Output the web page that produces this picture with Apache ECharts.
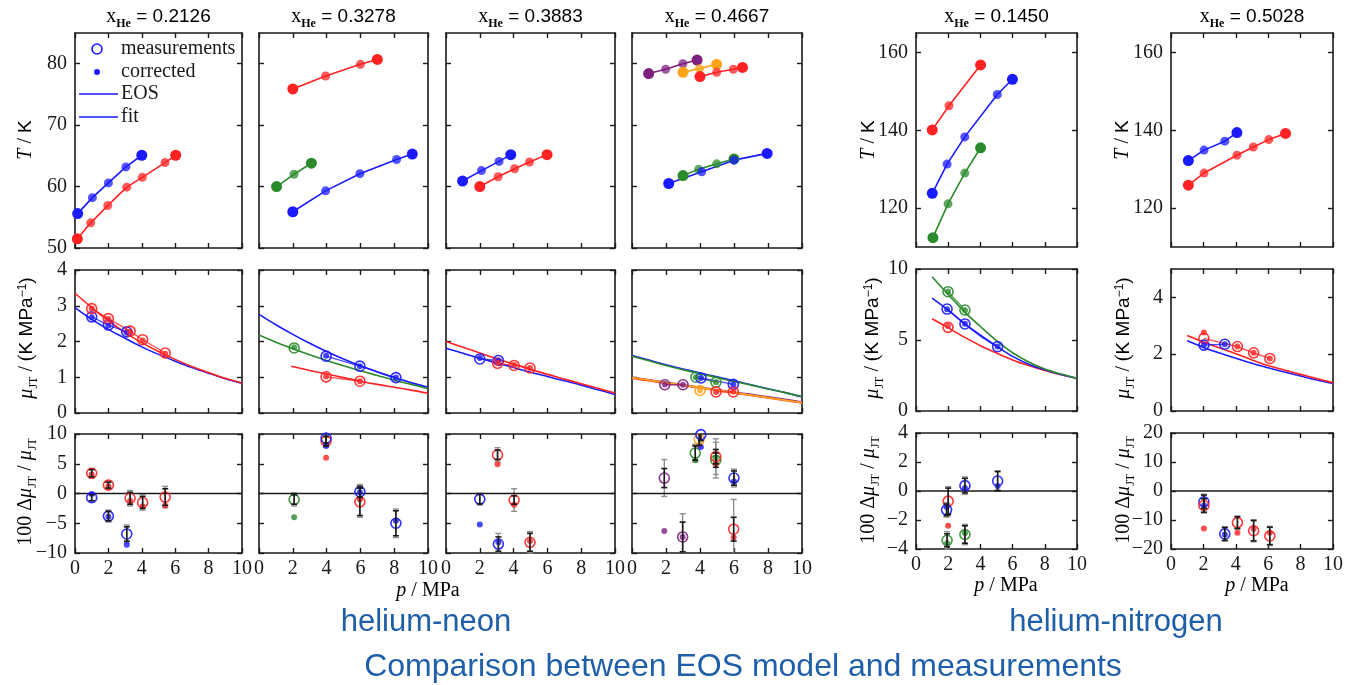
<!DOCTYPE html>
<html><head><meta charset="utf-8">
<script src="https://cdn.jsdelivr.net/npm/echarts@6/dist/echarts.min.js"></script>
<style>html,body{margin:0;padding:0;background:#fff}#c{width:1355px;height:685px}</style>
</head><body><div id="c"></div>
<script>
// ---------------- DATA ----------------
const titles = ['0.2126','0.3278','0.3883','0.4667','0.1450','0.5028'];
const xTicks = [0,2,4,6,8,10];
const tTicksNe = [50,60,70,80];
const tTicksN = [120,140,160];
const muTicksNe = [0,1,2,3,4];
const muTicksN1 = [0,5,10];
const muTicksN2 = [0,2,4];
const dTicksNe = [-10,-5,0,5,10];
const dTicksN1 = [-4,-2,0,2,4];
const dTicksN2 = [-20,-10,0,10,20];
const zeroLine = [[0,0],[10,0]];

// Temperature panels [p, T]
const tNe1Blue = [[0.16,55.6],[1.04,58.2],[2.0,60.6],[3.05,63.2],[4.0,65.1]];
const tNe1Red = [[0.14,51.5],[0.94,54.1],[1.96,56.9],[3.1,59.9],[4.03,61.5],[5.39,63.9],[6.03,65.1]];
const tNe2Red = [[2.0,75.9],[3.94,78.0],[6.0,79.9],[7.0,80.7]];
const tNe2Green = [[1.04,60.0],[2.07,62.0],[3.1,63.8]];
const tNe2Blue = [[2.0,55.9],[3.94,59.3],[5.97,62.1],[8.14,64.4],[9.07,65.3]];
const tNe3Blue = [[0.98,60.9],[2.1,62.6],[3.14,64.1],[3.83,65.2]];
const tNe3Red = [[2.0,60.0],[3.08,61.6],[4.06,62.9],[4.94,64.0],[5.98,65.2]];
const tNe4Purple = [[0.98,78.4],[1.98,79.1],[2.99,80.0],[3.83,80.6]];
const tNe4Orange = [[3.0,78.6],[3.97,79.2],[4.98,79.9]];
const tNe4Red = [[4.0,77.9],[4.98,78.6],[5.96,79.1],[6.5,79.4]];
const tNe4Green = [[3.0,61.8],[3.92,62.8],[4.98,63.7],[6.0,64.5]];
const tNe4Blue = [[2.16,60.5],[4.1,62.4],[6.0,64.3],[7.95,65.4]];
const tN1Red = [[1.01,140.1],[2.05,146.3],[4.01,156.8]];
const tN1Blue = [[1.01,123.8],[1.93,131.3],[3.03,138.3],[5.05,149.2],[5.99,153.1]];
const tN1Green = [[1.05,112.4],[1.99,121.1],[3.03,129.0],[4.01,135.5]];
const tN2Blue = [[1.07,132.2],[2.04,134.9],[3.32,137.2],[4.07,139.4]];
const tN2Red = [[1.07,125.9],[2.04,129.0],[4.07,133.6],[5.08,135.7],[6.04,137.6],[7.07,139.2]];

// Joule-Thomson coefficient: EOS curves [p, mu]
const muNe1RedEOS = [[0,3.35],[1,2.95],[2,2.58],[3,2.25],[4,1.97],[5,1.72],[6,1.5],[7,1.3],[8,1.13],[9,0.97],[10,0.84]];
const muNe1BlueEOS = [[0,2.95],[1,2.62],[2,2.34],[3,2.09],[4,1.85],[5,1.64],[6,1.45],[7,1.27],[8,1.11],[9,0.96],[10,0.83]];
const muNe2BlueEOS = [[0,2.76],[1,2.47],[2,2.2],[3,1.95],[4,1.72],[5,1.51],[6,1.32],[7,1.15],[8,0.99],[9,0.85],[10,0.72]];
const muNe2GreenEOS = [[0,2.18],[1,1.98],[2,1.8],[3,1.63],[4,1.47],[5,1.32],[6,1.18],[7,1.05],[8,0.92],[9,0.8],[10,0.68]];
const muNe2RedEOS = [[1.9,1.31],[3,1.19],[4,1.09],[5,0.99],[6,0.89],[7,0.8],[8,0.72],[9,0.64],[10,0.55]];
const muNe3RedEOS = [[0,2.0],[1,1.84],[2,1.68],[3,1.52],[4,1.37],[5,1.22],[6,1.08],[7,0.95],[8,0.82],[9,0.69],[10,0.56]];
const muNe3BlueEOS = [[0,1.81],[1,1.67],[2,1.53],[3,1.4],[4,1.27],[5,1.14],[6,1.02],[7,0.9],[8,0.78],[9,0.65],[10,0.52]];
const muNe4BlueEOS = [[0,1.61],[1,1.48],[2,1.35],[3,1.23],[4,1.12],[5,1.01],[6,0.9],[7,0.79],[8,0.68],[9,0.57],[10,0.45]];
const muNe4GreenEOS = [[0,1.59],[1,1.46],[2,1.33],[3,1.21],[4,1.1],[5,0.99],[6,0.88],[7,0.78],[8,0.67],[9,0.57],[10,0.46]];
const muNe4PurpleEOS = [[0,1.0],[1,0.93],[2,0.86],[3,0.79],[4,0.72],[5,0.65],[6,0.58],[7,0.52],[8,0.45],[9,0.38],[10,0.31]];
const muNe4RedEOS = [[0,0.97],[1,0.9],[2,0.83],[3,0.77],[4,0.7],[5,0.63],[6,0.56],[7,0.49],[8,0.42],[9,0.35],[10,0.28]];
const muNe4OrangeEOS = [[0,0.99],[1,0.92],[2,0.85],[3,0.78],[4,0.71],[5,0.64],[6,0.57],[7,0.5],[8,0.43],[9,0.36],[10,0.29]];
const muN1GreenEOS = [[1,9.45],[2,8.2],[3,7.0],[4,5.95],[5,4.95],[6,4.1],[7,3.45],[8,2.95],[9,2.6],[10,2.3]];
const muN1BlueEOS = [[1,7.95],[2,7.1],[3,6.15],[4,5.3],[5,4.56],[6,3.85],[7,3.3],[8,2.9],[9,2.57],[10,2.3]];
const muN1RedEOS = [[1,6.5],[2,5.85],[3,5.2],[4,4.6],[5,4.08],[6,3.6],[7,3.2],[8,2.85],[9,2.55],[10,2.3]];
const muN2RedEOS = [[1,2.66],[2,2.43],[3,2.22],[4,2.02],[5,1.8],[6,1.6],[7,1.44],[8,1.29],[9,1.14],[10,1.0]];
const muN2BlueEOS = [[1,2.47],[2,2.24],[3,2.04],[4,1.86],[5,1.68],[6,1.52],[7,1.37],[8,1.23],[9,1.09],[10,0.97]];

// Joule-Thomson coefficient: points [p, measured, corrected]
const muNe1Red = [[1.0,2.92,2.92],[2.0,2.64,2.63],[3.3,2.29,2.27],[4.05,2.05,2.03],[5.4,1.68,1.66]];
const muNe1Blue = [[1.0,2.69,2.68],[2.0,2.46,2.45],[3.1,2.27,2.25]];
const muNe2Blue = [[3.97,1.59,1.6],[5.97,1.31,1.31],[8.1,0.99,0.99]];
const muNe2Green = [[2.08,1.82,1.84]];
const muNe2Red = [[3.97,1.01,1.02],[5.97,0.89,0.89]];
const muNe3Red = [[3.05,1.39,1.4],[4.03,1.33,1.34],[4.97,1.26,1.26]];
const muNe3Blue = [[2.0,1.51,1.54],[3.1,1.47,1.47]];
const muNe4Green = [[3.76,1.0,1.0],[4.94,0.86,0.86]];
const muNe4Blue = [[4.06,0.98,0.98],[5.96,0.8,0.8]];
const muNe4Purple = [[1.93,0.79,0.8],[3.0,0.79,0.79]];
const muNe4Orange = [[4.0,0.63,0.63]];
const muNe4Red = [[4.94,0.59,0.59],[5.96,0.59,0.6]];
const muN1Green = [[1.99,8.4,8.42],[3.04,7.11,7.1]];
const muN1Blue = [[1.93,7.18,7.17],[3.04,6.13,6.14],[5.07,4.53,4.55]];
const muN1Red = [[1.99,5.89,5.99]];
const muN2Red = [[2.03,2.56,2.76],[4.1,2.27,2.27],[5.1,2.05,2.05],[6.1,1.85,1.85]];
const muN2Blue = [[2.03,2.32,2.32],[3.32,2.35,2.35]];

// Deviations [p, measured, corrected, black error, grey error]
const dNe1Red = [[1.0,3.4,3.2,0.6,0.8],[2.0,1.4,1.2,0.5,0.7],[3.3,-0.8,-1.2,1.0,1.3],[4.05,-1.5,-2.2,1.0,1.3],[5.4,-0.6,-2.0,1.4,1.8]];
const dNe1Blue = [[1.0,-0.7,-0.1,0.5,0.7],[2.0,-3.8,-3.9,0.8,1.0],[3.1,-6.8,-8.6,1.2,1.5]];
const dNe2Green = [[2.08,-1.0,-4.0,0.8,1.1]];
const dNe2Red = [[3.97,8.8,6.0,0.8,1.0],[5.97,-1.4,-1.0,2.3,2.6]];
const dNe2Blue = [[3.97,9.3,8.0,0.8,1.0],[5.97,0.3,0.2,0.9,1.2],[8.1,-5.0,-4.6,2.1,2.4]];
const dNe3Red = [[3.05,6.5,4.9,0.8,1.2],[4.03,-1.1,-1.9,0.7,1.9],[4.97,-8.2,-8.0,1.5,1.8]];
const dNe3Blue = [[2.0,-0.95,-5.2,0.8,1.0],[3.1,-8.5,-8.2,1.2,1.8]];
const dNe4Purple = [[1.9,2.6,-6.3,1.6,3.1],[2.98,-7.3,-7.3,2.5,3.9]];
const dNe4Green = [[3.72,6.8,5.6,1.2,1.5],[4.93,5.6,6.0,1.2,3.0]];
const dNe4Orange = [[3.95,9.1,8.1,1.0,1.4]];
const dNe4Blue = [[4.05,9.9,7.8,1.0,1.4],[6.0,2.6,2.0,1.2,1.5]];
const dNe4Red = [[4.93,6.2,5.0,1.2,3.0],[5.98,-6.0,-7.4,2.0,5.0]];
const dN1Red = [[2.0,-0.7,-2.4,0.9,1.0]];
const dN1Blue = [[1.9,-1.3,-1.1,0.4,0.5],[3.04,0.37,0.2,0.5,0.6],[5.07,0.69,0.35,0.65,0.7]];
const dN1Green = [[1.93,-3.4,-3.6,0.45,0.6],[3.04,-3.0,-2.9,0.6,0.7]];
const dN2Blue = [[2.03,-3.7,-5.0,2.3,2.6],[3.32,-14.8,-15.0,2.2,2.5]];
const dN2Red = [[2.03,-5.0,-12.9,2.3,2.6],[4.1,-10.9,-14.4,2.0,2.3],[5.1,-13.7,-13.0,3.5,3.8],[6.1,-15.5,-14.4,3.0,3.3]];

// ---------------- STYLE / LAYOUT ----------------
const BLUE='#1a1aff', RED='#ff2222', GREEN='#2b8a2b', PURPLE='#7f1f7f', ORANGE='#ffa31a', INK='#1a1a1a', GREY='#8f8f8f';
const SERIF='"Liberation Serif","DejaVu Serif",serif';
const SANS='"Liberation Sans","DejaVu Sans",sans-serif';
const CAPTION='#1f5ea8';
const cols = [[75,242],[259,428],[446,615],[632,802],[916,1077],[1171,1333]];
const rowsNe = [[33,248],[270,413],[434,553]];
const rowsN = [[33,247],[269,411],[433,549]];

const grids=[], xAxes=[], yAxes=[], series=[];
const fmt = v => String(v).replace('-','\u2212');
function addPanel(col,row,yMin,yMax,yTicks,showYLab){
  const g = grids.length;
  const [l,r] = cols[col];
  const [t,b] = (col>=4?rowsN:rowsNe)[row];
  grids.push({left:l, top:t, width:r-l, height:b-t, show:false});
  const line = {show:true, onZero:false, lineStyle:{color:INK,width:1.6}};
  const tick = vals => ({show:true, inside:true, length:5, customValues:vals, lineStyle:{color:INK,width:1.4}});
  xAxes.push({gridIndex:g,type:'value',position:'bottom',min:0,max:10,axisLine:line,axisTick:tick(xTicks),splitLine:{show:false},
    axisLabel:{show:row===2,customValues:xTicks,margin:6,fontFamily:SERIF,fontSize:20,color:INK}});
  xAxes.push({gridIndex:g,type:'value',position:'top',min:0,max:10,axisLine:line,axisTick:tick(xTicks),splitLine:{show:false},axisLabel:{show:false}});
  yAxes.push({gridIndex:g,type:'value',position:'left',min:yMin,max:yMax,axisLine:line,axisTick:tick(yTicks),splitLine:{show:false},
    axisLabel:{show:showYLab,customValues:yTicks,margin:8,fontFamily:SERIF,fontSize:20,color:INK,formatter:fmt}});
  yAxes.push({gridIndex:g,type:'value',position:'right',min:yMin,max:yMax,axisLine:line,axisTick:tick(yTicks),splitLine:{show:false},axisLabel:{show:false}});
  return g;
}
const ax = g => ({xAxisIndex:2*g, yAxisIndex:2*g, silent:true});
function tLine(g,data,c){
  const n=data.length;
  series.push({type:'line',...ax(g),symbol:'circle',
    data:data.map((d,i)=>{const e=(i===0||i===n-1);return {value:d,symbolSize:e?11:9,itemStyle:{opacity:e?1:0.75}};}),
    lineStyle:{color:c,width:1.6},itemStyle:{color:c},z:3});
}
function curve(g,data,c){
  series.push({type:'line',...ax(g),data:data,smooth:0.35,symbol:'none',showSymbol:false,lineStyle:{color:c,width:1.6},z:2});
}
function fitLine(g,data,c){
  series.push({type:'line',...ax(g),data:data.map(d=>[d[0],d[1]]),symbol:'none',showSymbol:false,lineStyle:{color:c,width:1.3,opacity:0.8},z:2});
}
function meas(g,data,c){
  series.push({type:'scatter',...ax(g),data:data.map(d=>[d[0],d[1]]),symbol:'circle',symbolSize:10,
    itemStyle:{color:'rgba(255,255,255,0)',borderColor:c,borderWidth:1.6,opacity:0.9},z:4});
}
function corr(g,data,c){
  series.push({type:'scatter',...ax(g),data:data.map(d=>[d[0],d[2]]),symbol:'circle',symbolSize:6,itemStyle:{color:c},z:5});
}
function errRender(color,w){
  return function(params,api){
    const x=api.value(0), y=api.value(1), e=api.value(2);
    const cs=params.coordSys;
    const p1=api.coord([x,y+e]), p2=api.coord([x,y-e]);
    const yTop=cs.y, yBot=cs.y+cs.height;
    const a=Math.max(p1[1],yTop), b=Math.min(p2[1],yBot);
    const st={stroke:color,lineWidth:w};
    const ch=[{type:'line',shape:{x1:p1[0],y1:a,x2:p1[0],y2:b},style:st}];
    if(p1[1]>=yTop) ch.push({type:'line',shape:{x1:p1[0]-3,y1:p1[1],x2:p1[0]+3,y2:p1[1]},style:st});
    if(p2[1]<=yBot) ch.push({type:'line',shape:{x1:p2[0]-3,y1:p2[1],x2:p2[0]+3,y2:p2[1]},style:st});
    return {type:'group',children:ch};
  };
}
function errBars(g,data,idx,color,w,z){
  series.push({type:'custom',...ax(g),coordinateSystem:'cartesian2d',data:data.map(d=>[d[0],d[1],d[idx]]),
    encode:{x:0,y:1},renderItem:errRender(color,w),z:z});
}
function devSet(g,data,c){
  errBars(g,data,4,GREY,1.4,1);
  meas(g,data,c); corr(g,data,c);
  errBars(g,data,3,INK,1.6,6);
}
function muSet(g,data,c){ fitLine(g,data,c); meas(g,data,c); corr(g,data,c); }
function zero(g){ series.push({type:'line',...ax(g),data:zeroLine,symbol:'none',lineStyle:{color:INK,width:1.6},z:1}); }

// Row 1: temperatures
let g;
g=addPanel(0,0,50,85,tTicksNe,true); tLine(g,tNe1Blue,BLUE); tLine(g,tNe1Red,RED);
g=addPanel(1,0,50,85,tTicksNe,false); tLine(g,tNe2Red,RED); tLine(g,tNe2Green,GREEN); tLine(g,tNe2Blue,BLUE);
g=addPanel(2,0,50,85,tTicksNe,false); tLine(g,tNe3Blue,BLUE); tLine(g,tNe3Red,RED);
g=addPanel(3,0,50,85,tTicksNe,false); tLine(g,tNe4Purple,PURPLE); tLine(g,tNe4Orange,ORANGE); tLine(g,tNe4Red,RED); tLine(g,tNe4Green,GREEN); tLine(g,tNe4Blue,BLUE);
g=addPanel(4,0,110,165,tTicksN,true); tLine(g,tN1Red,RED); tLine(g,tN1Blue,BLUE); tLine(g,tN1Green,GREEN);
g=addPanel(5,0,110,165,tTicksN,true); tLine(g,tN2Blue,BLUE); tLine(g,tN2Red,RED);

// Row 2: JT coefficients
g=addPanel(0,1,0,4,muTicksNe,true); curve(g,muNe1BlueEOS,BLUE); curve(g,muNe1RedEOS,RED); muSet(g,muNe1Blue,BLUE); muSet(g,muNe1Red,RED);
g=addPanel(1,1,0,4,muTicksNe,false); curve(g,muNe2BlueEOS,BLUE); curve(g,muNe2GreenEOS,GREEN); curve(g,muNe2RedEOS,RED);
  muSet(g,muNe2Blue,BLUE); muSet(g,muNe2Green,GREEN); muSet(g,muNe2Red,RED);
g=addPanel(2,1,0,4,muTicksNe,false); curve(g,muNe3BlueEOS,BLUE); curve(g,muNe3RedEOS,RED); muSet(g,muNe3Blue,BLUE); muSet(g,muNe3Red,RED);
g=addPanel(3,1,0,4,muTicksNe,false); curve(g,muNe4BlueEOS,BLUE); curve(g,muNe4GreenEOS,GREEN); curve(g,muNe4PurpleEOS,PURPLE); curve(g,muNe4RedEOS,RED); curve(g,muNe4OrangeEOS,ORANGE);
  muSet(g,muNe4Green,GREEN); muSet(g,muNe4Blue,BLUE); muSet(g,muNe4Purple,PURPLE); muSet(g,muNe4Orange,ORANGE); muSet(g,muNe4Red,RED);
g=addPanel(4,1,0,10,muTicksN1,true); curve(g,muN1RedEOS,RED); curve(g,muN1BlueEOS,BLUE); curve(g,muN1GreenEOS,GREEN);
  muSet(g,muN1Green,GREEN); muSet(g,muN1Blue,BLUE); muSet(g,muN1Red,RED);
g=addPanel(5,1,0,5,muTicksN2,true); curve(g,muN2BlueEOS,BLUE); curve(g,muN2RedEOS,RED); muSet(g,muN2Blue,BLUE); muSet(g,muN2Red,RED);

// Row 3: deviations
g=addPanel(0,2,-10,10,dTicksNe,true); zero(g); devSet(g,dNe1Red,RED); devSet(g,dNe1Blue,BLUE);
g=addPanel(1,2,-10,10,dTicksNe,false); zero(g); devSet(g,dNe2Green,GREEN); devSet(g,dNe2Red,RED); devSet(g,dNe2Blue,BLUE);
g=addPanel(2,2,-10,10,dTicksNe,false); zero(g); devSet(g,dNe3Red,RED); devSet(g,dNe3Blue,BLUE);
g=addPanel(3,2,-10,10,dTicksNe,false); zero(g); devSet(g,dNe4Purple,PURPLE); devSet(g,dNe4Green,GREEN); devSet(g,dNe4Orange,ORANGE); devSet(g,dNe4Blue,BLUE); devSet(g,dNe4Red,RED);
g=addPanel(4,2,-4,4,dTicksN1,true); zero(g); devSet(g,dN1Red,RED); devSet(g,dN1Blue,BLUE); devSet(g,dN1Green,GREEN);
g=addPanel(5,2,-20,20,dTicksN2,true); zero(g); devSet(g,dN2Blue,BLUE); devSet(g,dN2Red,RED);

// ---------------- TEXT ----------------
const richBase = {
  n:{fontFamily:SERIF,fontSize:20,lineHeight:22,verticalAlign:'top',color:INK},
  ns:{fontFamily:SANS,fontSize:19,lineHeight:22,verticalAlign:'top',color:INK},
  i:{fontFamily:SERIF,fontSize:20,fontStyle:'italic',lineHeight:22,verticalAlign:'top',color:INK},
  s:{fontFamily:SERIF,fontSize:12,lineHeight:12,verticalAlign:'top',padding:[11,0,0,0],color:INK},
  sb:{fontFamily:SERIF,fontSize:12,fontWeight:'bold',lineHeight:12,verticalAlign:'top',padding:[11,0,0,0],color:INK},
  sup:{fontFamily:SANS,fontSize:12,lineHeight:12,verticalAlign:'top',padding:[0,0,0,0],color:INK}
};
function txt(x,y,text,rot,extra){
  return Object.assign({type:'text',x:x,y:y,rotation:rot||0,silent:true,
    style:{text:text,rich:richBase,align:'center',verticalAlign:'middle',textAlign:'center',textVerticalAlign:'middle'}},extra||{});
}
const elements=[];
titles.forEach((t,i)=>{ const cx=(cols[i][0]+cols[i][1])/2; elements.push(txt(cx,18,'{n|x}{sb|He}{ns| = '+t+'}')); });
const R=Math.PI/2;
const tLab='{i|T}{n| / }{ns|K}';
const muLab='{i|μ}{s|JT}{n| / (}{ns|K MPa}{sup|\u22121}{ns|)}';
const dLab='{n|100 Δ}{i|μ}{s|JT}{n| / }{i|μ}{s|JT}';
const pLab='{i|p}{n| / MPa}';
elements.push(txt(27,140,tLab,R), txt(870,140,tLab,R), txt(1124,140,tLab,R));
elements.push(txt(28,338,muLab,R), txt(874,338,muLab,R), txt(1125,338,muLab,R));
elements.push(txt(27,492,dLab,R), txt(870,490,dLab,R), txt(1125,490,dLab,R));
elements.push(txt(428,592,pLab), txt(1006,587,pLab), txt(1257,587,pLab));
// legend
const legTxt=(y,t)=>({type:'text',x:121,y:y,silent:true,style:{text:t,fontFamily:SERIF,fontSize:20,fill:INK,align:'left',verticalAlign:'middle',textAlign:'left',textVerticalAlign:'middle'}});
elements.push({type:'circle',shape:{cx:97,cy:49,r:5},style:{fill:'none',stroke:BLUE,lineWidth:1.6},silent:true});
elements.push(legTxt(49,'measurements'));
elements.push({type:'circle',shape:{cx:97,cy:72,r:3},style:{fill:BLUE},silent:true});
elements.push(legTxt(72,'corrected'));
elements.push({type:'line',shape:{x1:79,y1:94,x2:118,y2:94},style:{stroke:BLUE,lineWidth:1.6},silent:true});
elements.push(legTxt(94,'EOS'));
elements.push({type:'line',shape:{x1:79,y1:117,x2:118,y2:117},style:{stroke:BLUE,lineWidth:1.6},silent:true});
elements.push(legTxt(117,'fit'));
// captions
const cap=(x,y,t,s)=>({type:'text',x:x,y:y,silent:true,style:{text:t,fontFamily:SANS,fontSize:s,fill:CAPTION,align:'center',verticalAlign:'middle',textAlign:'center',textVerticalAlign:'middle'}});
elements.push(cap(426,622,'helium-neon',31), cap(1116,622,'helium-nitrogen',31), cap(743,667,'Comparison between EOS model and measurements',32));

const chart = echarts.init(document.getElementById('c'), null, {renderer:'canvas'});
chart.setOption({animation:false, backgroundColor:'#fff', grid:grids, xAxis:xAxes, yAxis:yAxes, series:series, graphic:{elements:elements}});
</script></body></html>
